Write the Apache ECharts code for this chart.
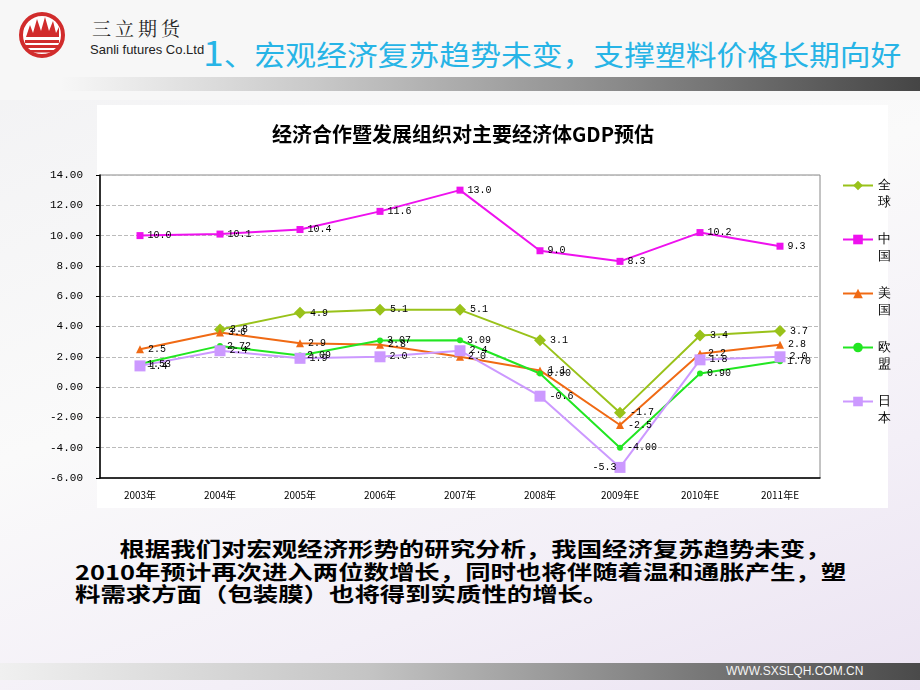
<!DOCTYPE html>
<html>
<head>
<meta charset="utf-8">
<script src="https://cdn.jsdelivr.net/npm/echarts@6/dist/echarts.min.js"></script>
<style>
  body { margin: 0; }
  #slide { position: relative; width: 920px; height: 690px; overflow: hidden;
    background: linear-gradient(160deg, #f1f1f3 0%, #fafafa 45%, #f3eff7 75%, #ebe3f2 100%);
    font-family: "Noto Sans CJK SC", sans-serif; }
  #head { position: absolute; left: 0; top: 0; width: 920px; height: 100px; background: #f7f7f7; }
  #bar { position: absolute; left: 60px; top: 77px; width: 860px; height: 14px;
    background: linear-gradient(to right, rgba(255,255,255,0) 0%, #c8c8c8 30%, #8a8a8a 65%, #454545 100%); }
  #cname { position: absolute; left: 92px; top: 14px; font-family: "Noto Serif CJK SC", "Noto Sans CJK SC", serif;
    font-size: 19px; letter-spacing: 4px; color: #222; }
  #ename { position: absolute; left: 90px; top: 42px; font-family: "Liberation Sans Narrow", "Liberation Sans", sans-serif;
    font-size: 13px; color: #222; }
  #title { position: absolute; left: 203px; top: 27px; font-size: 28px; color: #27b4e6;
    transform: scaleX(1.1); transform-origin: left; white-space: nowrap; }
  #title b { font-weight: normal; font-size: 34px; }
  #panel { position: absolute; left: 97px; top: 105px; width: 791px; height: 403px; background: #fff; }
  #chart { position: absolute; left: 0; top: 100px; width: 920px; height: 420px; }
  #note { position: absolute; left: 75px; top: 538px; width: 700px; font-size: 20px; line-height: 22.5px;
    font-weight: bold; color: #000; transform: scaleX(1.27); transform-origin: left; text-indent: 35px; }
  #foot { position: absolute; left: 0; top: 663px; width: 920px; height: 17px;
    background: linear-gradient(to right, #f0f0f0 0%, #c4c4c4 40%, #7a7a7a 75%, #4a4a4a 100%); }
  #url { position: absolute; left: 726px; top: 664px; font-family: "Liberation Sans Narrow", "Liberation Sans", sans-serif;
    font-size: 12px; color: #f4f4f4; }
</style>
</head>
<body>
<div id="slide">
  <div id="head"></div>
  <svg style="position:absolute;left:18px;top:11px" width="48" height="48" viewBox="0 0 48 48">
    <circle cx="24" cy="24" r="21" fill="#fff" stroke="#d12c2c" stroke-width="4"/>
    <polygon points="8,26 12,14 15,22 19,8 23,20 27,6 31,20 35,10 38,22 41,16 41,26" fill="#d12c2c"/>
    <rect x="7" y="29" width="34" height="3" fill="#d12c2c"/>
    <rect x="8" y="34" width="32" height="3" fill="#d12c2c"/>
    <rect x="11" y="39" width="26" height="2.5" fill="#d12c2c"/>
  </svg>
  <div id="cname">三立期货</div>
  <div id="ename">Sanli futures Co.Ltd</div>
  <div id="title"><b>1</b>、宏观经济复苏趋势未变，支撑塑料价格长期向好</div>
  <div id="bar"></div>
  <div id="panel"></div>
  <div id="chart"></div>
  <div id="note">根据我们对宏观经济形势的研究分析，我国经济复苏趋势未变，<br>2010年预计再次进入两位数增长，同时也将伴随着温和通胀产生，塑<br>料需求方面（包装膜）也将得到实质性的增长。</div>
  <div id="foot"></div>
  <div id="url">WWW.SXSLQH.COM.CN</div>
</div>
<script>
// 经合组织 GDP 预估数据
var years = ['2003年', '2004年', '2005年', '2006年', '2007年', '2008年', '2009年E', '2010年E', '2011年E'];
var world = [null, 3.8, 4.9, 5.1, 5.1, 3.1, -1.7, 3.4, 3.7];
var china = [10.0, 10.1, 10.4, 11.6, 13.0, 9.0, 8.3, 10.2, 9.3];
var usa = [2.5, 3.6, 2.9, 2.8, 2.0, 1.1, -2.5, 2.2, 2.8];
var eu = [1.53, 2.72, 2.09, 3.07, 3.09, 0.90, -4.00, 0.90, 1.70];
var japan = [1.4, 2.4, 1.9, 2.0, 2.4, -0.6, -5.3, 1.8, 2.0];
var yTicks = { min: -6, max: 14, step: 2 };

var labelFont = { color: '#000', fontFamily: 'Liberation Mono', fontSize: 10 };

function mkSeries(name, data, color, symbol, size, digits) {
  return {
    name: name,
    type: 'line',
    data: data,
    symbol: symbol,
    symbolSize: size,
    itemStyle: { color: color },
    lineStyle: { color: color, width: 2 },
    label: Object.assign({
      show: true,
      position: 'right',
      distance: 4,
      formatter: function (p) { return p.value == null ? '' : Number(p.value).toFixed(digits); }
    }, labelFont)
  };
}

var japanSeries = mkSeries('日本', japan, '#cc99ff', 'rect', 11, 1);
japanSeries.data = japan.map(function (v, i) {
  if (years[i] === '2009年E') return { value: v, label: { position: 'left', distance: -2 } };
  return v;
});

var chart = echarts.init(document.getElementById('chart'));
chart.setOption({
  animation: false,
  title: {
    text: '经济合作暨发展组织对主要经济体GDP预估',
    left: 458,
    textAlign: 'center',
    top: 19,
    textStyle: { fontSize: 20, fontWeight: 'bold', color: '#000', fontFamily: 'Noto Sans CJK SC' }
  },
  legend: {
    orient: 'vertical',
    left: 837,
    top: 55,
    itemWidth: 30,
    itemHeight: 12,
    itemGap: 3,
    // 空的首行让第一个字与图标对齐
    formatter: function (n) { return '\n' + n.split('').join('\n'); },
    textStyle: { fontSize: 13, lineHeight: 17, color: '#000' },
    data: ['全球', '中国', '美国', '欧盟', '日本']
  },
  grid: {
    left: 100, right: 100, top: 75, bottom: 42,
    show: true, borderColor: '#888', borderWidth: 1
  },
  xAxis: {
    type: 'category',
    data: years,
    boundaryGap: true,
    axisLine: { onZero: false, lineStyle: { color: '#000', width: 1.5 } },
    axisTick: { inside: true, length: 4, lineStyle: { color: '#000' } },
    axisLabel: { fontSize: 10, color: '#000', margin: 12, fontFamily: 'Noto Sans CJK SC' }
  },
  yAxis: {
    type: 'value',
    min: yTicks.min,
    max: yTicks.max,
    interval: yTicks.step,
    axisLine: { show: true, lineStyle: { color: '#000', width: 1.5 } },
    axisTick: { show: true, length: 4, lineStyle: { color: '#000' } },
    axisLabel: { formatter: function (v) { return v.toFixed(2); }, fontFamily: 'Liberation Mono', fontSize: 11, color: '#000', margin: 17 },
    splitLine: { lineStyle: { color: '#bbb', type: 'dashed' } }
  },
  series: [
    mkSeries('全球', world, '#99c21a', 'diamond', 12, 1),
    mkSeries('中国', china, '#ee11ee', 'rect', 7, 1),
    mkSeries('美国', usa, '#f06a14', 'triangle', 8, 1),
    mkSeries('欧盟', eu, '#22e622', 'circle', 6, 2),
    japanSeries
  ]
});
</script>
</body>
</html>
